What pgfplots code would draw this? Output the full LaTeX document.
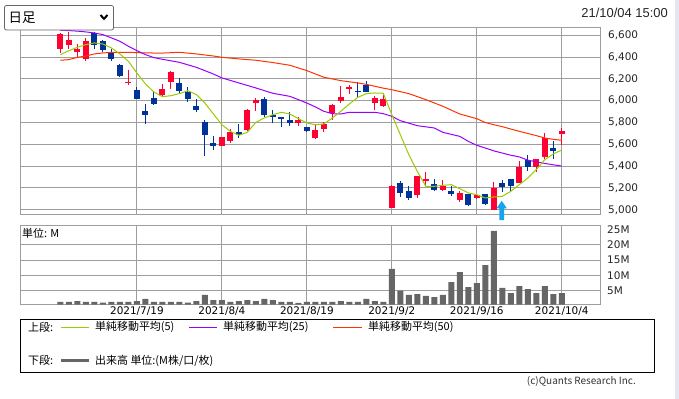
\documentclass[border=0pt]{standalone}
\usepackage{fontspec}
\setmainfont{DejaVu Sans}
\newfontfamily\jp{Noto Sans CJK JP}
\newfontfamily\arial{Liberation Sans}
\usepackage{pgfplots}
\pgfplotsset{compat=1.18}
\usepackage{pgfplotstable}

\definecolor{upc}{RGB}{255,0,51}
\definecolor{dnc}{RGB}{0,51,153}
\definecolor{ma5}{RGB}{153,204,0}
\definecolor{ma25}{RGB}{153,0,255}
\definecolor{ma50}{RGB}{255,51,0}
\definecolor{grd}{RGB}{158,158,158}
\definecolor{vol}{RGB}{102,102,102}
\definecolor{arr}{RGB}{20,165,235}
\definecolor{edge}{RGB}{228,230,240}

% up (red) candles: index open high low close
\pgfplotstableread{
i o h l c
0 6478 6618 6438 6612
1 6514 6631 6478 6557
2 6447 6520 6398 6475
3 6386 6576 6368 6545
8 6165 6279 6141 6175
12 6053 6154 6040 6108
13 6175 6276 6111 6267
19 5588 5670 5582 5667
20 5634 5741 5612 5710
22 5735 5924 5719 5915
23 5982 6022 5909 6007
28 5793 5848 5771 5823
30 5658 5780 5649 5728
31 5744 5802 5713 5790
32 5887 5970 5826 5961
33 5998 6135 5979 6034
34 6111 6141 6065 6129
37 5982 6040 5918 6025
38 5955 6056 5939 6016
39 5016 5230 5016 5218
42 5138 5310 5108 5310
43 5270 5343 5230 5280
45 5181 5270 5175 5215
47 5092 5169 5074 5154
49 5108 5138 5102 5132
51 5001 5254 5001 5199
54 5248 5450 5242 5395
56 5389 5465 5349 5465
57 5484 5704 5465 5655
59 5698 5750 5597 5719
}\upt

% down (blue) candles
\pgfplotstableread{
i o h l c
4 6621 6631 6478 6514
5 6545 6557 6447 6469
6 6441 6478 6368 6386
7 6328 6334 6215 6224
9 6102 6126 6019 6019
10 5909 5970 5790 5872
11 6025 6086 5958 5970
14 6163 6209 6071 6089
15 6083 6126 5991 6019
16 5952 6016 5894 5918
17 5802 5823 5496 5689
18 5612 5673 5548 5588
21 5710 5787 5658 5683
24 6016 6034 5848 5872
25 5869 5915 5796 5857
26 5851 5855 5759 5839
27 5823 5897 5768 5799
29 5759 5762 5713 5725
35 6092 6172 6037 6077
36 6144 6184 6083 6083
40 5242 5264 5120 5157
41 5172 5218 5092 5108
44 5236 5282 5169 5181
46 5172 5218 5129 5147
48 5144 5146 5037 5047
50 5144 5146 5047 5056
52 5245 5273 5160 5206
53 5282 5284 5169 5215
55 5459 5502 5358 5395
58 5566 5627 5468 5542
}\dnt

\pgfplotstableread{
i v
0 1.3
1 1.3
2 1.6
3 1.3
4 1.3
5 1.1
6 1.3
7 1.3
8 1.3
9 1.6
10 2.3
11 1.3
12 1.3
13 1.3
14 1.3
15 1.1
16 1.6
17 3.6
18 1.9
19 1.9
20 1.3
21 1.6
22 1.9
23 1.6
24 2.3
25 1.9
26 1.3
27 1.3
28 1.0
29 1.3
30 1.3
31 1.3
32 1.3
33 1.6
34 1.3
35 1.3
36 2.3
37 1.6
38 1.3
39 12.1
40 5.0
41 3.6
42 3.9
43 3.3
44 2.9
45 3.6
46 7.8
47 11.1
48 6.2
49 7.5
50 13.4
51 24.6
52 5.9
53 4.2
54 6.5
55 5.5
56 4.2
57 6.5
58 3.9
59 4.2
}\volt

\pgfplotsset{
  base/.style={
    scale only axis,
    width=580bp,
    xmin=-4.76, xmax=63.5,
    xtick={9,19,29,39,49,59},
    axis line style={grd, line width=1bp},
    grid=major,
    major grid style={grd, line width=0.9bp},
    major tick length=0pt,
    tick style={draw=none},
    tick label style={font=\fontsize{10.5}{12}\selectfont, text=black!85},
    /pgf/number format/assume math mode=true,
  },
  candle/.style={draw=none, forget plot, error bars/.cd, y dir=both, y explicit, error mark=none},
}

\begin{document}
\begin{tikzpicture}
\fill[white] (0,0) rectangle (679bp,-399bp);
\fill[edge] (675bp,0) rectangle (679bp,-399bp);

% ---------- price panel ----------
\begin{axis}[base,
  at={(20bp,-214bp)}, anchor=south west,
  height=187bp,
  ymin=4961, ymax=6676,
  xticklabels={},
  ytick={5000,5200,5400,5600,5800,6000,6200,6400,6600},
  yticklabels={{5,000},{5,200},{5,400},{5,600},{5,800},{6,000},{6,200},{6,400},{6,600}},
  yticklabel pos=right,
  yticklabel style={anchor=west, inner sep=0pt, xshift=8bp},
]
% wicks
\addplot[candle, error bar style={draw=upc, line width=1bp}]
  table[x=i, y expr={0.5*(\thisrow{h}+\thisrow{l})}, y error expr={0.5*(\thisrow{h}-\thisrow{l})}] {\upt};
\addplot[candle, error bar style={draw=dnc, line width=1bp}]
  table[x=i, y expr={0.5*(\thisrow{h}+\thisrow{l})}, y error expr={0.5*(\thisrow{h}-\thisrow{l})}] {\dnt};
% bodies
\addplot[candle, error bar style={draw=upc, line width=6bp}]
  table[x=i, y expr={0.5*(\thisrow{o}+\thisrow{c})}, y error expr={0.5*abs(\thisrow{c}-\thisrow{o})}] {\upt};
\addplot[candle, error bar style={draw=dnc, line width=6bp}]
  table[x=i, y expr={0.5*(\thisrow{o}+\thisrow{c})}, y error expr={0.5*abs(\thisrow{c}-\thisrow{o})}] {\dnt};
% moving averages
\addplot[ma50, line width=1bp] coordinates {
(0,6371)(1,6377)(2,6398)(3,6410)(4,6429)(5,6438)(6,6444)(8,6444)(10,6438)(12,6437)
(14,6444)(16,6429)(18,6410)(19,6398)(21,6383)(23,6371)(25,6350)(27,6325)(29,6276)
(31,6215)(33,6184)(35,6163)(36,6150)(38,6115)(39,6101)(41,6065)(43,6010)(45,5949)
(47,5878)(49,5835)(50,5800)(51,5780)(52,5762)(54,5719)(56,5680)(57,5658)(58,5646)(59,5637)};
\addplot[ma25, line width=1bp] coordinates {
(0,6646)(1,6643)(2,6638)(3,6631)(4,6621)(5,6606)(6,6576)(7,6545)(8,6499)(9,6459)
(10,6423)(11,6395)(12,6380)(14,6352)(16,6306)(18,6245)(19,6209)(21,6163)(23,6117)
(25,6068)(27,6040)(29,5979)(30,5943)(31,5903)(32,5881)(33,5878)(34,5894)(36,5894)
(37,5894)(38,5881)(39,5857)(40,5817)(42,5771)(44,5750)(45,5710)(47,5673)(48,5627)
(49,5591)(50,5566)(51,5540)(52,5520)(53,5500)(54,5485)(55,5455)(56,5440)(57,5425)
(58,5412)(59,5401)};
\addplot[ma5, line width=1bp] coordinates {
(0,6423)(1,6459)(2,6490)(3,6514)(4,6530)(5,6520)(6,6484)(7,6429)(8,6361)(9,6254)
(10,6154)(11,6080)(12,6037)(13,6046)(14,6065)(15,6092)(16,6056)(17,5979)(18,5878)
(19,5780)(20,5719)(21,5683)(22,5710)(23,5802)(24,5842)(25,5872)(26,5894)(27,5878)
(28,5836)(29,5796)(30,5780)(31,5787)(32,5842)(33,5903)(34,5970)(35,6031)(36,6065)
(37,6071)(38,6068)(39,5872)(40,5689)(41,5505)(42,5352)(43,5215)(44,5215)(45,5224)
(46,5230)(47,5193)(48,5154)(49,5138)(50,5108)(51,5117)(52,5123)(53,5169)(54,5230)
(55,5291)(56,5368)(57,5459)(58,5511)(59,5548)};
\end{axis}

% ---------- volume panel ----------
\begin{axis}[base,
  at={(20bp,-304.5bp)}, anchor=south west,
  height=79.5bp,
  ymin=0.47, ymax=26.5,
  xticklabels={2021/7/19,2021/8/4,2021/8/19,2021/9/2,2021/9/16,2021/10/4},
  xticklabel style={anchor=north, inner sep=0pt, yshift=-2.5bp, text=black},
  ytick={5,10,15,20},
  yticklabels={5M,10M,15M,20M},
  extra y ticks={25},
  extra y tick labels={25M},
  extra y tick style={grid=none},
  yticklabel pos=right,
  yticklabel style={anchor=west, inner sep=0pt, xshift=7bp},
]
\addplot[ybar, bar width=6bp, fill=vol, draw=none] table[x=i, y=v] {\volt};
\end{axis}

% unit label
\node[anchor=west, inner sep=0pt, font=\jp\fontsize{11}{12}\selectfont] at (22bp,-233.5bp) {単位: M};

% signal arrow
\fill[arr] (501.7bp,-200.7bp) -- (506.8bp,-208.3bp) -- (504.1bp,-208.3bp) -- (504.1bp,-220bp)
  -- (499.3bp,-220bp) -- (499.3bp,-208.3bp) -- (496.6bp,-208.3bp) -- cycle;

% top controls
\draw[rounded corners=2bp, draw=black!60, line width=0.8bp, fill=white] (4.5bp,-5.5bp) rectangle (113.5bp,-30bp);
\node[anchor=west, inner sep=0pt, font=\jp\fontsize{13.5}{14}\selectfont] at (8.5bp,-17.5bp) {日足};
\draw[line width=2bp, line cap=butt, line join=miter] (100.5bp,-15bp) -- (104bp,-18.8bp) -- (107.5bp,-15bp);
\node[anchor=east, inner sep=0pt, font=\arial\fontsize{13}{14}\selectfont, text=black!85] at (668bp,-12.5bp) {21/10/04 15:00};

% legend box
\draw[black, line width=1bp] (20bp,-319.5bp) rectangle (654bp,-372bp);
\begin{scope}[every node/.style={anchor=west, inner sep=0pt, font=\jp\fontsize{11}{12}\selectfont}]
\node at (28bp,-327bp) {上段:};
\draw[ma5, line width=1bp] (61bp,-327bp) -- (89bp,-327bp);
\node at (95bp,-327bp) {単純移動平均(5)};
\draw[ma25, line width=1bp] (189bp,-327bp) -- (217bp,-327bp);
\node at (223bp,-327bp) {単純移動平均(25)};
\draw[ma50, line width=1bp] (333bp,-327bp) -- (362bp,-327bp);
\node at (368bp,-327bp) {単純移動平均(50)};
\node at (28bp,-360.5bp) {下段:};
\draw[vol, line width=3bp] (61bp,-360.5bp) -- (89bp,-360.5bp);
\node at (95bp,-360.5bp) {出来高 単位:(M株/口/枚)};
\end{scope}
\node[anchor=east, inner sep=0pt, font=\jp\fontsize{10}{12}\selectfont, text=black!80] at (636bp,-381.5bp) {(c)Quants Research Inc.};

\pgfresetboundingbox
\path[use as bounding box] (0,0) rectangle (679bp,-399bp);
\end{tikzpicture}
\end{document}
